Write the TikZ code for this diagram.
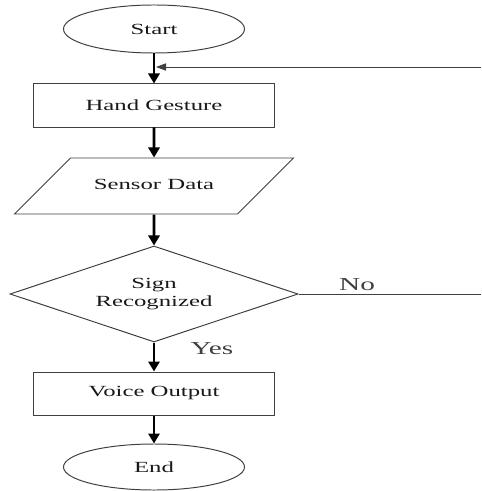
\documentclass[tikz,border=0pt]{standalone}
\usepackage{fontspec}
\setmainfont{Liberation Serif}[FakeStretch=1.6]
\usetikzlibrary{shapes.geometric,arrows.meta}

\tikzset{
	box/.style={draw=black!75, line width=0.7pt, text=black!90, inner sep=0pt, font=\fontsize{11}{12.8}\selectfont},
	flowarrow/.style={line width=2pt, -{Triangle[length=0.25cm, width=0.28cm]}},
	backline/.style={line width=0.7pt, draw=black!75},
	answer/.style={text=black!75, font=\fontsize{13}{15}\selectfont}
}

\begin{document}
\begin{tikzpicture}[x=0.025cm, y=-0.025cm]
			%%%%% START %%%%%
			\useasboundingbox (0, 0) rectangle (481, 491);
			
			\node[box, ellipse, minimum width=4.525cm, minimum height=1.2cm] (start) at (154, 29) {Start};
			\node[box, rectangle, minimum width=6cm, minimum height=1.075cm] (hand) at (154, 105.5) {Hand Gesture};
			\node[box, trapezium, trapezium left angle=45, trapezium right angle=135, trapezium stretches body, text height=0.25cm, text depth=0.1cm, inner ysep=0.525cm, minimum width=6.975cm] (sensor) at (154, 186) {Sensor Data};
			\node[box, diamond, aspect=3, minimum width=7.2cm, minimum height=2.4cm, align=center] (sign) at (154, 294) {Sign\\Recognized};
			\node[box, rectangle, minimum width=6cm, minimum height=1.075cm] (voice) at (154, 393.5) {Voice Output};
			\node[box, ellipse, minimum width=4.525cm, minimum height=1.15cm] (stop) at (154, 467) {End};
			
			\draw[flowarrow] (start.south) -- (hand.north);
			\draw[flowarrow] (hand.south) -- (sensor.north);
			\draw[flowarrow] (sensor.south) -- (sign.north);
			\draw[flowarrow] (sign.south) -- (voice.north);
			\draw[flowarrow] (voice.south) -- (stop.north);
			
			\node[answer] (yes) at (212, 349) {Yes};
			\node[answer] (no) at (357, 285) {No};
			
			\coordinate (noend) at (481, 294);
			\coordinate (backin) at (481, 67);
			\coordinate (join) at (156, 67);
			\draw[backline] (sign.east) -- (noend);
			\draw[backline, -{Triangle[length=0.25cm, width=0.18cm]}] (backin) -- (join);
			
			%%%%% END %%%%%
\end{tikzpicture}
\end{document}
